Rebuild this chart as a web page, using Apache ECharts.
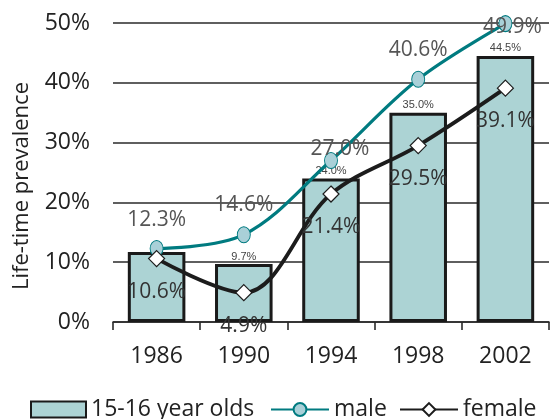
<!DOCTYPE html>
<html>
<head>
<meta charset="utf-8">
<script src="https://cdn.jsdelivr.net/npm/echarts@6/dist/echarts.min.js"></script>
<style>
  html, body { margin: 0; padding: 0; background: #fff; }
  #chart { width: 550px; height: 419px; }
</style>
</head>
<body>
<div id="chart"></div>
<script>
// Survey years
const years = ['1986', '1990', '1994', '1998', '2002'];
// Life-time prevalence (%), all 15-16 year olds
const totalValues = [11.7, 9.7, 24.0, 35.0, 44.5];
// Life-time prevalence (%), boys
const maleValues = [12.3, 14.6, 27.0, 40.6, 49.9];
// Life-time prevalence (%), girls
const femaleValues = [10.6, 4.9, 21.4, 29.5, 39.1];
// Bars whose value is printed above them
const totalLabelShown = [false, true, true, true, true];

const font = '"Open Sans", "Noto Sans", sans-serif';
const pct = p => p.value.toFixed(1) + '%';

// Per-point nudges for the male value labels (pixels)
const maleLabelOffsets = [[0, 2], [0, 0], [9, 19], [0, 1], [7, 33]];

const legendText = { fontSize: 23, color: '#222', fontFamily: font };

const chart = echarts.init(document.getElementById('chart'), null, { renderer: 'canvas' });

chart.setOption({
  animation: false,
  textStyle: { fontFamily: font },
  grid: { left: 113, right: 1, top: 23, bottom: 97, containLabel: false },
  legend: [
    {
      left: 25, top: 393, itemWidth: 55, itemHeight: 16,
      textStyle: legendText,
      data: [{ name: '15-16 year olds', icon: 'rect' }]
    },
    {
      left: 265, top: 393, itemWidth: 58, itemHeight: 16,
      textStyle: legendText,
      data: ['male']
    },
    {
      left: 394, top: 393, itemWidth: 58, itemHeight: 16,
      textStyle: legendText,
      data: ['female']
    }
  ],
  xAxis: {
    type: 'category',
    data: years,
    boundaryGap: true,
    axisLine: { show: true, lineStyle: { color: '#2a2a2a', width: 1.6 } },
    axisTick: { show: true, length: 8, lineStyle: { color: '#2a2a2a', width: 1.6 } },
    axisLabel: { fontSize: 23, color: '#222', margin: 23, fontFamily: font }
  },
  yAxis: {
    type: 'value',
    min: 0,
    max: 50,
    interval: 10,
    name: 'Life-time prevalence',
    nameLocation: 'middle',
    nameGap: 80,
    nameTextStyle: { fontSize: 22, color: '#222', fontFamily: font, padding: [0, 27, 0, 0] },
    axisLine: { show: false },
    axisTick: { show: false },
    axisLabel: { formatter: '{value}%', fontSize: 23, color: '#222', margin: 23, fontFamily: font },
    splitLine: { lineStyle: { color: '#2a2a2a', width: 1.6 } }
  },
  series: [
    {
      name: '15-16 year olds',
      type: 'bar',
      barWidth: '66%',
      data: totalValues.map((v, i) => ({
        value: v,
        label: { show: totalLabelShown[i] }
      })),
      itemStyle: { color: '#acd3d4', borderColor: '#1a1a1a', borderWidth: 3 },
      label: {
        position: 'top',
        distance: 2,
        formatter: pct,
        fontSize: 11,
        color: '#444',
        fontFamily: '"Liberation Sans", Arial, sans-serif'
      },
      z: 1
    },
    {
      name: 'male',
      type: 'line',
      smooth: 0.35,
      data: maleValues.map((v, i) => ({
        value: v,
        label: { offset: maleLabelOffsets[i] }
      })),
      symbol: 'circle',
      symbolSize: [13, 16],
      showAllSymbol: true,
      lineStyle: { color: '#007b80', width: 3.2 },
      itemStyle: { color: '#a9d0d8', borderColor: '#007b80', borderWidth: 1 },
      label: {
        show: true,
        position: 'top',
        distance: 11,
        formatter: pct,
        fontSize: 21,
        color: '#555',
        fontFamily: font
      },
      z: 3
    },
    {
      name: 'female',
      type: 'line',
      smooth: 0.35,
      data: femaleValues,
      symbol: 'diamond',
      symbolSize: 16,
      showAllSymbol: true,
      lineStyle: { color: '#1c1c1c', width: 3.8 },
      itemStyle: { color: '#ffffff', borderColor: '#1c1c1c', borderWidth: 1.2 },
      label: {
        show: true,
        position: 'bottom',
        distance: 14,
        formatter: pct,
        fontSize: 21,
        color: '#333',
        fontFamily: font
      },
      z: 4
    }
  ]
});
</script>
</body>
</html>
